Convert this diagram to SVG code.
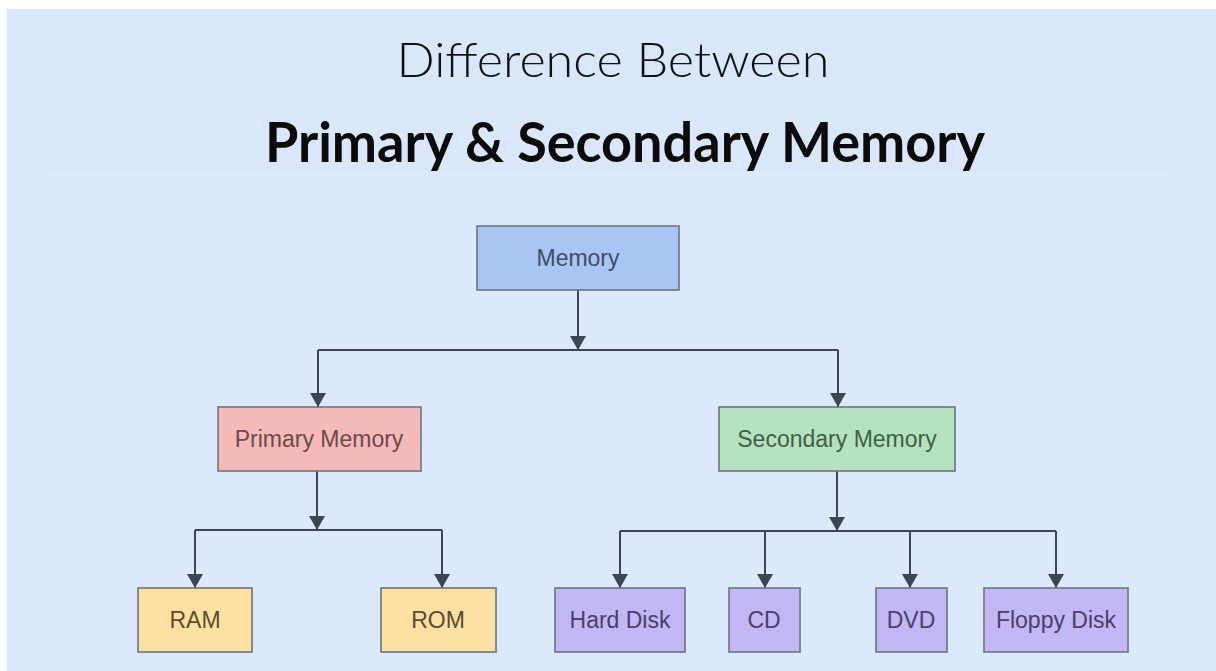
<svg xmlns="http://www.w3.org/2000/svg" width="1216" height="671" viewBox="0 0 1216 671">
  <defs>
    <marker id="arrow" viewBox="0 0 14 16" markerWidth="14" markerHeight="16" refX="14" refY="8" orient="auto" markerUnits="userSpaceOnUse">
      <path d="M0,0 L14,8 L0,16 Z" fill="#3b4652"/>
    </marker>
  </defs>
  <style>
    .title1 { font-family: "Lato", "Open Sans", "Liberation Sans", sans-serif; font-weight: 300; font-size: 48px; fill: #111; }
    .title2 { font-family: "Lato", "Open Sans", "Liberation Sans", sans-serif; font-weight: 700; font-size: 56px; fill: #0b0b0b; }
    .box { stroke: #6c737c; stroke-width: 1.6; }
    .label { font-family: "Liberation Sans", Arial, sans-serif; font-size: 23px; text-anchor: middle; dominant-baseline: central; }
    .wire { fill: none; stroke: #3b4652; stroke-width: 2; }
    .arrowed { marker-end: url(#arrow); }
  </style>

  <!-- page background with white margin at top and left -->
  <rect x="0" y="0" width="1216" height="671" fill="#ffffff"/>
  <rect x="7" y="9" width="1209" height="662" fill="#dae7fb"/>
  <rect x="48" y="172" width="1120" height="499" fill="#dce8fb"/>

  <!-- headings -->
  <text class="title1" x="613" y="77" text-anchor="middle" textLength="433" lengthAdjust="spacingAndGlyphs">Difference Between</text>
  <text class="title2" x="625" y="162" text-anchor="middle" textLength="720" lengthAdjust="spacingAndGlyphs">Primary &amp; Secondary Memory</text>

  <!-- connectors -->
  <g id="connectors">
    <path class="wire arrowed" d="M578,290 L578,350"/>
    <path class="wire" d="M318,350 L838,350"/>
    <path class="wire arrowed" d="M318,350 L318,407"/>
    <path class="wire arrowed" d="M838,350 L838,407"/>

    <path class="wire arrowed" d="M317,471 L317,530"/>
    <path class="wire" d="M195,530 L442,530"/>
    <path class="wire arrowed" d="M195,530 L195,588"/>
    <path class="wire arrowed" d="M442,530 L442,588"/>

    <path class="wire arrowed" d="M837,471 L837,531"/>
    <path class="wire" d="M620,531 L1056,531"/>
    <path class="wire arrowed" d="M620,531 L620,588"/>
    <path class="wire arrowed" d="M765,531 L765,588"/>
    <path class="wire arrowed" d="M910,531 L910,588"/>
    <path class="wire arrowed" d="M1056,531 L1056,588"/>
  </g>

  <!-- nodes -->
  <g id="memory">
    <rect class="box" x="477" y="226" width="202" height="64" fill="#a8c5f4"/>
    <text class="label" x="578" y="258" fill="#3e4f66">Memory</text>
  </g>
  <g id="primary-memory">
    <rect class="box" x="218" y="407" width="203" height="64" fill="#f5b9b8"/>
    <text class="label" x="319" y="439" fill="#6a4b4b">Primary Memory</text>
  </g>
  <g id="secondary-memory">
    <rect class="box" x="719" y="407" width="236" height="64" fill="#b4e1be"/>
    <text class="label" x="837" y="439" fill="#3f5f47">Secondary Memory</text>
  </g>
  <g id="ram">
    <rect class="box" x="138" y="588" width="114" height="64" fill="#fde1a2"/>
    <text class="label" x="195" y="620" fill="#5d4b30">RAM</text>
  </g>
  <g id="rom">
    <rect class="box" x="381" y="588" width="115" height="64" fill="#fde1a2"/>
    <text class="label" x="438" y="620" fill="#5d4b30">ROM</text>
  </g>
  <g id="hard-disk">
    <rect class="box" x="555" y="588" width="130" height="64" fill="#c3b6f5"/>
    <text class="label" x="620" y="620" fill="#4a406a">Hard Disk</text>
  </g>
  <g id="cd">
    <rect class="box" x="729" y="588" width="71" height="64" fill="#c3b6f5"/>
    <text class="label" x="764" y="620" fill="#4a406a">CD</text>
  </g>
  <g id="dvd">
    <rect class="box" x="876" y="588" width="71" height="64" fill="#c3b6f5"/>
    <text class="label" x="911" y="620" fill="#4a406a">DVD</text>
  </g>
  <g id="floppy-disk">
    <rect class="box" x="984" y="588" width="144" height="64" fill="#c3b6f5"/>
    <text class="label" x="1056" y="620" fill="#4a406a">Floppy Disk</text>
  </g>
</svg>
